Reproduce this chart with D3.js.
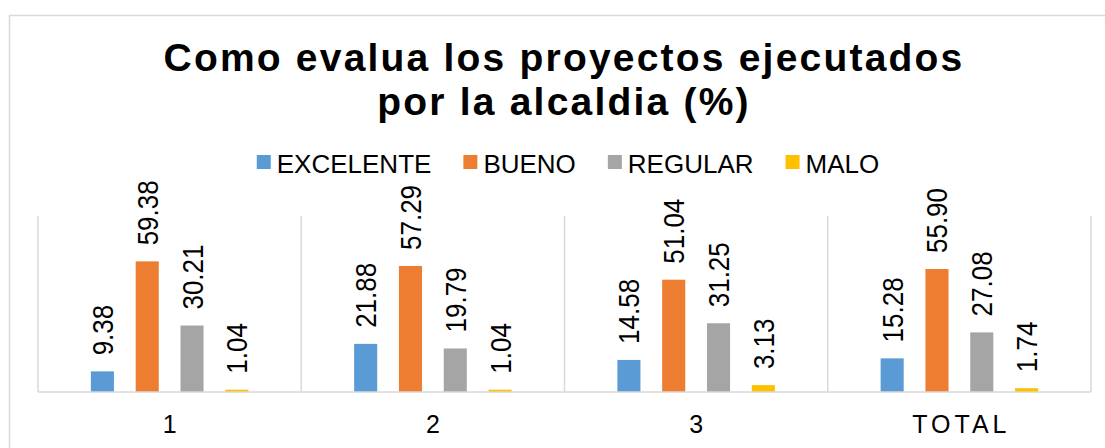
<!DOCTYPE html>
<html>
<head>
  <meta charset="utf-8">
  <title>Como evalua los proyectos</title>
  <script src="https://d3js.org/d3.v7.min.js"></script>
  <style>
    body { margin: 0; background: #fff; }
    text { font-family: 'Liberation Sans', Arial, sans-serif; fill: #000; }
  </style>
</head>
<body>
  <div id="chart"></div>
  <script>
    // data
    const categories = ["1", "2", "3", "TOTAL"];
    const seriesNames = ["EXCELENTE", "BUENO", "REGULAR", "MALO"];
    const excelente = [9.38, 21.88, 14.58, 15.28];
    const bueno = [59.38, 57.29, 51.04, 55.90];
    const regular = [30.21, 19.79, 31.25, 27.08];
    const malo = [1.04, 1.04, 3.13, 1.74];
    const titleLines = ["Como evalua los proyectos ejecutados", "por la alcaldia (%)"];

    const colors = ["#5B9BD5", "#ED7D31", "#A5A5A5", "#FFC000"];
    const values = [excelente, bueno, regular, malo];

    const W = 1105, H = 448;
    const plot = { left: 38, right: 1091, top: 216, bottom: 392 };

    const svg = d3.select("#chart").append("svg")
      .attr("width", W)
      .attr("height", H);

    // outer chart border
    svg.append("rect")
      .attr("x", 9.5).attr("y", 15.5)
      .attr("width", 1200).attr("height", 500)
      .attr("fill", "#fff")
      .attr("stroke", "#D9D9D9")
      .attr("stroke-width", 1.5);

    // title
    svg.append("g").selectAll("text")
      .data(titleLines)
      .join("text")
      .attr("x", 564)
      .attr("y", (d, i) => 71 + i * 44)
      .attr("text-anchor", "middle")
      .style("font-size", "39px")
      .style("font-weight", "bold")
      .style("letter-spacing", "2.2px")
      .text(d => d);

    // scales
    const x0 = d3.scaleBand().domain(categories).range([plot.left, plot.right]);
    const x1 = d3.scaleBand().domain(seriesNames)
      .range([0, x0.bandwidth()])
      .paddingInner(0.485)
      .paddingOuter(1.18);
    const y = d3.scaleLinear().domain([0, 80]).range([plot.bottom, plot.top]);

    // category separators
    const bounds = categories.map(c => x0(c)).concat([plot.right]);
    svg.append("g").selectAll("line")
      .data(bounds)
      .join("line")
      .attr("x1", d => d).attr("x2", d => d)
      .attr("y1", plot.top).attr("y2", plot.bottom)
      .attr("stroke", "#D9D9D9")
      .attr("stroke-width", 1.5);

    // bars
    const groups = svg.append("g").selectAll("g")
      .data(seriesNames)
      .join("g")
      .attr("fill", (d, i) => colors[i]);

    groups.selectAll("rect")
      .data((s, si) => categories.map((c, ci) => ({ c, s, v: values[si][ci] })))
      .join("rect")
      .attr("x", d => x0(d.c) + x1(d.s))
      .attr("y", d => y(d.v))
      .attr("width", x1.bandwidth())
      .attr("height", d => y(0) - y(d.v));

    // data labels (rotated, slightly widened like the original)
    groups.selectAll("text")
      .data((s, si) => categories.map((c, ci) => ({ c, s, v: values[si][ci] })))
      .join("text")
      .attr("transform", d => {
        const cx = x0(d.c) + x1(d.s) + x1.bandwidth() / 2;
        return `translate(${cx},${y(d.v) - 16}) rotate(-90) scale(1,1.15)`;
      })
      .attr("dy", "0.35em")
      .attr("text-anchor", "start")
      .style("font-size", "26px")
      .text(d => d.v.toFixed(2));

    // baseline
    svg.append("line")
      .attr("x1", plot.left).attr("x2", plot.right)
      .attr("y1", plot.bottom).attr("y2", plot.bottom)
      .attr("stroke", "#D9D9D9")
      .attr("stroke-width", 1.5);

    // category axis labels
    const xAxis = d3.axisBottom(x0).tickSize(0).tickPadding(0);
    const ax = svg.append("g")
      .attr("transform", `translate(0,${plot.bottom})`)
      .call(xAxis);
    ax.select(".domain").remove();
    ax.selectAll("text")
      .attr("y", 41)
      .attr("dy", null)
      .attr("dx", "2px")
      .style("font-size", "25px")
      .style("letter-spacing", "4px")
      .style("font-family", "'Liberation Sans', Arial, sans-serif");

    // legend
    const legend = svg.append("g");
    const items = legend.selectAll("g")
      .data(seriesNames)
      .join("g");
    items.append("rect")
      .attr("width", 14).attr("height", 14)
      .attr("y", 155)
      .attr("fill", (d, i) => colors[i]);
    items.append("text")
      .attr("x", 20)
      .attr("y", 173)
      .style("font-size", "26px")
      .text(d => d);
    let offsets = [], pos = 0;
    items.each(function () {
      offsets.push(pos);
      pos += 20 + d3.select(this).select("text").node().getComputedTextLength() + 32;
    });
    const legendWidth = pos - 32;
    const legendStart = 568 - legendWidth / 2;
    items.attr("transform", (d, i) => `translate(${legendStart + offsets[i]},0)`);
  </script>
</body>
</html>
